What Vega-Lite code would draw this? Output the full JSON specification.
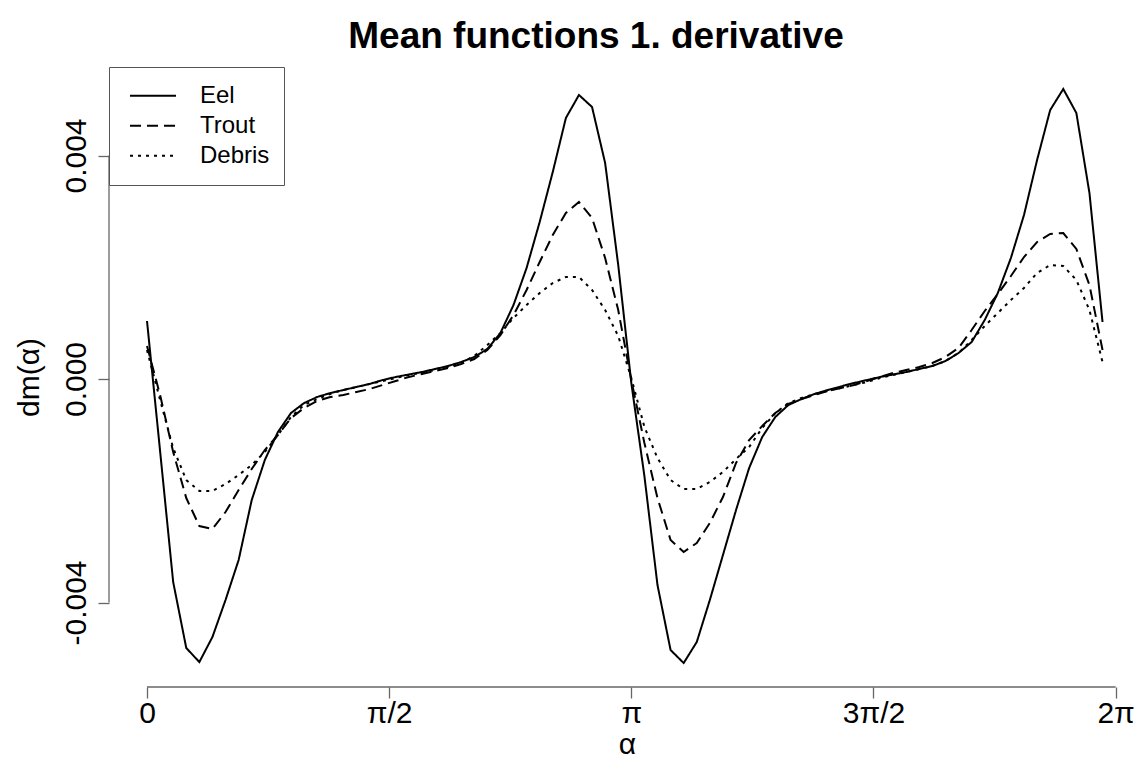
{
  "$schema": "https://vega.github.io/schema/vega-lite/v6.json",
  "width": 1032,
  "height": 620,
  "autosize": {"type": "none"},
  "padding": {"left": 109, "top": 67, "right": 0, "bottom": 76},
  "background": "white",
  "title": {
    "text": "Mean functions 1. derivative",
    "font": "Liberation Sans",
    "fontSize": 37,
    "fontWeight": "bold",
    "color": "black",
    "anchor": "middle",
    "dx": -29,
    "offset": 11
  },
  "config": {
    "view": {"stroke": null},
    "legend": {
      "orient": "top-left",
      "offset": 0,
      "padding": 14,
      "strokeColor": "#555",
      "fillColor": "white",
      "symbolType": "stroke",
      "symbolSize": 2116,
      "symbolStrokeWidth": 2,
      "symbolStrokeColor": "black",
      "symbolOffset": 6,
      "labelOffset": 23,
      "labelFont": "Liberation Sans",
      "labelFontSize": 24,
      "labelColor": "black",
      "labelBaseline": "middle",
      "clipHeight": 29.5,
      "rowPadding": 0
    }
  },
  "datasets": {
    "curves": [
      {"a": 0.0, "Eel": 0.001038, "Trout": 0.000591, "Debris": 0.000519},
      {"a": 0.0849, "Eel": -0.001289, "Trout": -0.000286, "Debris": -0.000376},
      {"a": 0.1698, "Eel": -0.003633, "Trout": -0.001306, "Debris": -0.001235},
      {"a": 0.2547, "Eel": -0.004814, "Trout": -0.00213, "Debris": -0.001808},
      {"a": 0.3396, "Eel": -0.005065, "Trout": -0.002631, "Debris": -0.002004},
      {"a": 0.4245, "Eel": -0.004617, "Trout": -0.002685, "Debris": -0.002004},
      {"a": 0.5094, "Eel": -0.003955, "Trout": -0.00238, "Debris": -0.001879},
      {"a": 0.5944, "Eel": -0.003239, "Trout": -0.001987, "Debris": -0.001718},
      {"a": 0.6793, "Eel": -0.002166, "Trout": -0.001611, "Debris": -0.001539},
      {"a": 0.7642, "Eel": -0.00145, "Trout": -0.001271, "Debris": -0.001306},
      {"a": 0.8491, "Eel": -0.000949, "Trout": -0.001002, "Debris": -0.001002},
      {"a": 0.934, "Eel": -0.000609, "Trout": -0.000698, "Debris": -0.00068},
      {"a": 1.0189, "Eel": -0.00043, "Trout": -0.000519, "Debris": -0.000465},
      {"a": 1.1038, "Eel": -0.000322, "Trout": -0.000394, "Debris": -0.000358},
      {"a": 1.1887, "Eel": -0.000251, "Trout": -0.000322, "Debris": -0.000268},
      {"a": 1.2736, "Eel": -0.000197, "Trout": -0.000286, "Debris": -0.000197},
      {"a": 1.3585, "Eel": -0.000143, "Trout": -0.000233, "Debris": -0.000143},
      {"a": 1.4434, "Eel": -0.000089, "Trout": -0.000179, "Debris": -0.000089},
      {"a": 1.5283, "Eel": -0.000018, "Trout": -0.000107, "Debris": -0.000036},
      {"a": 1.6133, "Eel": 0.000036, "Trout": -0.000036, "Debris": 0.000018},
      {"a": 1.6982, "Eel": 0.000081, "Trout": 0.000036, "Debris": 0.000072},
      {"a": 1.7831, "Eel": 0.000125, "Trout": 0.000089, "Debris": 0.000116},
      {"a": 1.868, "Eel": 0.000179, "Trout": 0.000143, "Debris": 0.000161},
      {"a": 1.9529, "Eel": 0.000233, "Trout": 0.000197, "Debris": 0.000215},
      {"a": 2.0378, "Eel": 0.000304, "Trout": 0.000268, "Debris": 0.000286},
      {"a": 2.1227, "Eel": 0.000394, "Trout": 0.000358, "Debris": 0.000412},
      {"a": 2.2076, "Eel": 0.000537, "Trout": 0.000519, "Debris": 0.000608},
      {"a": 2.2925, "Eel": 0.000823, "Trout": 0.000787, "Debris": 0.000823},
      {"a": 2.3774, "Eel": 0.001324, "Trout": 0.001145, "Debris": 0.001092},
      {"a": 2.4623, "Eel": 0.001987, "Trout": 0.001593, "Debris": 0.001324},
      {"a": 2.5472, "Eel": 0.00281, "Trout": 0.002094, "Debris": 0.001539},
      {"a": 2.6321, "Eel": 0.003705, "Trout": 0.002577, "Debris": 0.001718},
      {"a": 2.7171, "Eel": 0.004671, "Trout": 0.002971, "Debris": 0.001826},
      {"a": 2.802, "Eel": 0.005083, "Trout": 0.003168, "Debris": 0.001826},
      {"a": 2.8869, "Eel": 0.004868, "Trout": 0.002881, "Debris": 0.001593},
      {"a": 2.9718, "Eel": 0.003866, "Trout": 0.002166, "Debris": 0.001235},
      {"a": 3.0567, "Eel": 0.00204, "Trout": 0.001235, "Debris": 0.00077},
      {"a": 3.1416, "Eel": -0.000072, "Trout": -0.000018, "Debris": 0.000018},
      {"a": 3.2265, "Eel": -0.001736, "Trout": -0.001145, "Debris": -0.000859},
      {"a": 3.3114, "Eel": -0.003687, "Trout": -0.00213, "Debris": -0.001414},
      {"a": 3.3963, "Eel": -0.00485, "Trout": -0.002881, "Debris": -0.001808},
      {"a": 3.4812, "Eel": -0.005083, "Trout": -0.003096, "Debris": -0.001969},
      {"a": 3.5661, "Eel": -0.004707, "Trout": -0.002935, "Debris": -0.001969},
      {"a": 3.651, "Eel": -0.003955, "Trout": -0.002577, "Debris": -0.001843},
      {"a": 3.736, "Eel": -0.00315, "Trout": -0.002112, "Debris": -0.001664},
      {"a": 3.8209, "Eel": -0.002345, "Trout": -0.001503, "Debris": -0.001432},
      {"a": 3.9058, "Eel": -0.001593, "Trout": -0.001092, "Debris": -0.001217},
      {"a": 3.9907, "Eel": -0.001038, "Trout": -0.000841, "Debris": -0.000877},
      {"a": 4.0756, "Eel": -0.00068, "Trout": -0.000608, "Debris": -0.000608},
      {"a": 4.1605, "Eel": -0.000465, "Trout": -0.000447, "Debris": -0.00043},
      {"a": 4.2454, "Eel": -0.000358, "Trout": -0.000358, "Debris": -0.00034},
      {"a": 4.3303, "Eel": -0.000268, "Trout": -0.000286, "Debris": -0.000268},
      {"a": 4.4152, "Eel": -0.000197, "Trout": -0.000215, "Debris": -0.000215},
      {"a": 4.5001, "Eel": -0.000134, "Trout": -0.000161, "Debris": -0.000161},
      {"a": 4.585, "Eel": -0.000072, "Trout": -0.000107, "Debris": -0.000107},
      {"a": 4.6699, "Eel": -0.000018, "Trout": -0.000036, "Debris": -0.000054},
      {"a": 4.7548, "Eel": 0.000036, "Trout": 0.000036, "Debris": 0.000018},
      {"a": 4.8398, "Eel": 0.000081, "Trout": 0.000107, "Debris": 0.000072},
      {"a": 4.9247, "Eel": 0.000125, "Trout": 0.000161, "Debris": 0.000125},
      {"a": 5.0096, "Eel": 0.000179, "Trout": 0.000215, "Debris": 0.000179},
      {"a": 5.0945, "Eel": 0.000233, "Trout": 0.000286, "Debris": 0.000233},
      {"a": 5.1794, "Eel": 0.000322, "Trout": 0.000394, "Debris": 0.000322},
      {"a": 5.2643, "Eel": 0.000465, "Trout": 0.000555, "Debris": 0.000465},
      {"a": 5.3492, "Eel": 0.000662, "Trout": 0.000877, "Debris": 0.000698},
      {"a": 5.4341, "Eel": 0.001056, "Trout": 0.001217, "Debris": 0.000949},
      {"a": 5.519, "Eel": 0.001539, "Trout": 0.001521, "Debris": 0.001181},
      {"a": 5.6039, "Eel": 0.002166, "Trout": 0.001843, "Debris": 0.001414},
      {"a": 5.6888, "Eel": 0.002935, "Trout": 0.002183, "Debris": 0.001629},
      {"a": 5.7737, "Eel": 0.003919, "Trout": 0.002452, "Debris": 0.001897},
      {"a": 5.8587, "Eel": 0.004814, "Trout": 0.002595, "Debris": 0.00204},
      {"a": 5.9436, "Eel": 0.00519, "Trout": 0.002613, "Debris": 0.002022},
      {"a": 6.0285, "Eel": 0.004761, "Trout": 0.002327, "Debris": 0.001772},
      {"a": 6.1134, "Eel": 0.003329, "Trout": 0.001682, "Debris": 0.001235},
      {"a": 6.1983, "Eel": 0.00102, "Trout": 0.000519, "Debris": 0.000304}
    ],
    "xline": [{"a0": 0, "a1": 6.2832, "v": -0.005512}],
    "yline": [{"a": -0.2465, "v0": -0.004, "v1": 0.004}]
  },
  "layer": [
    {
      "data": {"name": "curves"},
      "transform": [{"fold": ["Eel", "Trout", "Debris"], "as": ["fish", "dm"]}],
      "mark": {"type": "line", "color": "black", "strokeWidth": 2},
      "encoding": {
        "x": {
          "field": "a",
          "type": "quantitative",
          "scale": {"domain": [-0.2465, 6.4478], "nice": false, "zero": false},
          "axis": {
            "title": "α",
            "values": [0, 1.5708, 3.1416, 4.7124, 6.2832],
            "labelExpr": "datum.value < 0.1 ? '0' : datum.value < 2 ? 'π/2' : datum.value < 3.5 ? 'π' : datum.value < 5 ? '3π/2' : '2π'",
            "domain": false,
            "grid": false,
            "tickSize": 11,
            "tickColor": "#666",
            "tickWidth": 1.3,
            "labelFont": "Liberation Sans",
            "labelFontSize": 30,
            "labelColor": "black",
            "labelBaseline": "alphabetic",
            "labelPadding": 24,
            "labelFlush": false,
            "labelOverlap": false,
            "titleFont": "Liberation Sans",
            "titleFontSize": 30,
            "titleFontWeight": "normal",
            "titleColor": "black",
            "titleX": 518,
            "titleY": 66,
            "titleAlign": "center",
            "titleBaseline": "alphabetic"
          }
        },
        "y": {
          "field": "dm",
          "type": "quantitative",
          "scale": {"domain": [-0.005512, 0.005584], "nice": false, "zero": false},
          "axis": {
            "title": "dm(α)",
            "values": [-0.004, 0, 0.004],
            "labelExpr": "datum.value < 0 ? '-' + format(-datum.value, '.3f') : format(datum.value, '.3f')",
            "domain": false,
            "grid": false,
            "tickSize": 11,
            "tickColor": "#666",
            "tickWidth": 1.3,
            "labelFont": "Liberation Sans",
            "labelFontSize": 30,
            "labelColor": "black",
            "labelAngle": 270,
            "labelAlign": "center",
            "labelBaseline": "alphabetic",
            "labelPadding": 13,
            "labelFlush": false,
            "labelOverlap": false,
            "titleFont": "Liberation Sans",
            "titleFontSize": 30,
            "titleFontWeight": "normal",
            "titleColor": "black",
            "titleAngle": 270,
            "titleX": -71,
            "titleY": 310,
            "titleAlign": "center",
            "titleBaseline": "alphabetic"
          }
        },
        "strokeDash": {
          "field": "fish",
          "type": "nominal",
          "scale": {"domain": ["Eel", "Trout", "Debris"], "range": [[1, 0], [11, 6], [3, 5]]},
          "legend": {"title": null}
        }
      }
    },
    {
      "data": {"name": "xline"},
      "mark": {"type": "rule", "color": "#666", "strokeWidth": 1.3},
      "encoding": {
        "x": {"field": "a0", "type": "quantitative"},
        "x2": {"field": "a1"},
        "y": {"field": "v", "type": "quantitative"}
      }
    },
    {
      "data": {"name": "yline"},
      "mark": {"type": "rule", "color": "#666", "strokeWidth": 1.3},
      "encoding": {
        "x": {"field": "a", "type": "quantitative"},
        "y": {"field": "v0", "type": "quantitative"},
        "y2": {"field": "v1"}
      }
    }
  ]
}
